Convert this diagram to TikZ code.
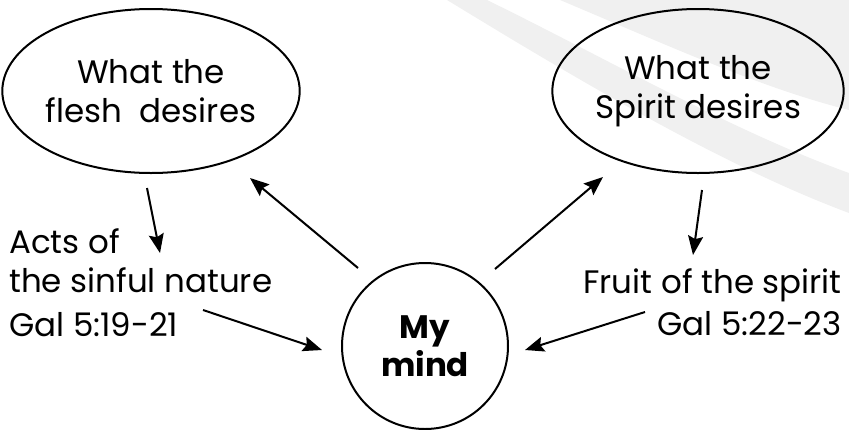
\documentclass[tikz,border=0pt]{standalone}
\usepackage{fontspec}
\setmainfont{Poppins}
\usetikzlibrary{shapes.geometric,arrows.meta}
\definecolor{stripe}{HTML}{F0F0F0}
\tikzset{
  bubble/.style={draw=black, line width=2pt, ellipse, inner sep=0pt, align=center,
    font=\fontsize{32.5}{39}\selectfont},
  lbl/.style={inner sep=0pt, font=\fontsize{32.5}{39}\selectfont},
  conn/.style={line width=2pt, -{Stealth[length=19pt,width=15pt,inset=3pt]}}
}
\begin{document}
\begin{tikzpicture}[x=1pt,y=-1pt]
\useasboundingbox (0,0) rectangle (849,429);
% background stripes
\fill[stripe] (560,0) .. controls (660,42) and (760,88) .. (849,110) -- (849,0) -- cycle;
\fill[stripe] (447,0) -- (487,0) .. controls (600,55) and (730,130) .. (849,173)
  -- (849,213) .. controls (720,165) and (570,75) .. (447,0) -- cycle;
% nodes
\node[bubble, minimum width=288pt, minimum height=164pt] (flesh) at (151,91) {What the\\flesh\ \ desires};
\node[bubble, minimum width=287pt, minimum height=164pt] (spirit) at (698,91) {What the\\Spirit desires};
\node[bubble, circle, minimum size=166pt, font=\fontsize{32.5}{38}\bfseries\selectfont] (mind) at (425,346) {My\\mind};
\node[lbl, anchor=base west] (acts1) at (9,253) {Acts of};
\node[lbl, anchor=base west] (acts2) at (9,292) {the sinful nature};
\node[lbl, anchor=base west] (acts3) at (9,336) {Gal 5:19-21};
\node[lbl, anchor=base east] (fruit1) at (842,293) {Fruit of the spirit};
\node[lbl, anchor=base east] (fruit2) at (842,335) {Gal 5:22-23};
% connector ends
\coordinate (f0) at (147,188);
\coordinate (f1) at (160,253);
\coordinate (m0) at (358,268);
\coordinate (f2) at (250,178);
\coordinate (m1) at (495,269);
\coordinate (s2) at (603,177);
\coordinate (s0) at (702,190);
\coordinate (s1) at (693,255);
\coordinate (g0) at (203,310);
\coordinate (g1) at (322,350);
\coordinate (h0) at (645,312);
\coordinate (h1) at (525,350);
\draw[conn] (f0) -- (f1);
\draw[conn] (m0) -- (f2);
\draw[conn] (m1) -- (s2);
\draw[conn] (s0) -- (s1);
\draw[conn] (g0) -- (g1);
\draw[conn] (h0) -- (h1);
\end{tikzpicture}
\end{document}
